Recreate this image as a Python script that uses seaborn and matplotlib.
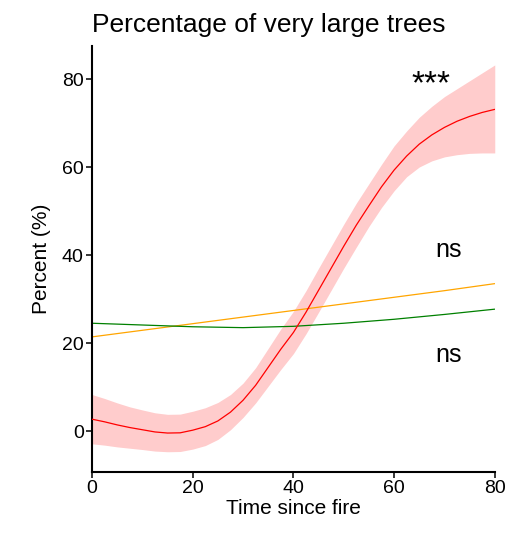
import matplotlib
matplotlib.use("Agg")
import matplotlib.pyplot as plt
import seaborn as sns
import pandas as pd

# ---- data ----
time_fire = [0, 2.5, 5, 7.5, 10, 12.5, 15, 17.5, 20, 22.5, 25, 27.5, 30, 32.5, 35, 37.5,
             40, 42.5, 45, 47.5, 50, 52.5, 55, 57.5, 60, 62.5, 65, 67.5, 70, 72.5, 75, 77.5, 80]
red_fit = [2.7, 2.1, 1.4, 0.8, 0.3, -0.2, -0.45, -0.4, 0.2, 1.0, 2.3, 4.3, 7.0, 10.4, 14.5, 18.6,
           22.4, 27.0, 32.0, 37.0, 42.0, 46.8, 51.2, 55.5, 59.3, 62.5, 65.2, 67.3, 69.0, 70.4, 71.5, 72.4, 73.1]
red_upper = [8.3, 7.4, 6.4, 5.5, 4.8, 4.15, 3.8, 3.85, 4.5, 5.3, 6.5, 8.3, 10.9, 14.4, 18.8, 23.2,
             27.2, 31.9, 37.0, 42.0, 47.0, 51.8, 56.2, 60.6, 64.8, 68.2, 71.3, 73.8, 76.0, 77.8, 79.6, 81.4, 83.2]
red_lower = [-2.9, -3.2, -3.6, -3.9, -4.2, -4.55, -4.7, -4.65, -4.1, -3.3, -1.9, 0.3, 3.1, 6.4, 10.2, 14.0,
             17.6, 22.1, 27.0, 32.0, 37.0, 41.8, 46.5, 50.8, 54.6, 57.8, 60.0, 61.4, 62.3, 62.8, 63.1, 63.2, 63.2]

time_fire2 = [0, 10, 20, 30, 40, 50, 60, 70, 80]
orange_fit = [21.4, 22.9, 24.4, 25.9, 27.4, 28.9, 30.4, 31.9, 33.5]
green_fit = [24.5, 24.1, 23.7, 23.5, 23.8, 24.5, 25.4, 26.5, 27.7]

x_ticks = [0, 20, 40, 60, 80]
y_ticks = [0, 20, 40, 60, 80]

title = "Percentage of very large trees"
x_label = "Time since fire"
y_label = "Percent (%)"

df_red = pd.DataFrame({"x": time_fire, "y": red_fit, "lo": red_lower, "hi": red_upper})
df_other = pd.DataFrame({"x": time_fire2, "orange": orange_fit, "green": green_fit})

sns.set_theme(style="ticks")
plt.rcParams["font.family"] = ["Liberation Sans", "DejaVu Sans"]

fig = plt.figure(figsize=(5.17, 5.38), dpi=100)
ax = fig.add_axes([0.178, 0.1227, 0.779, 0.7918])

ax.fill_between(df_red["x"], df_red["lo"], df_red["hi"], color="#FFCCCC", linewidth=0, zorder=1)
sns.lineplot(data=df_other, x="x", y="orange", color="#FFA500", linewidth=0.9, ax=ax, zorder=2)
sns.lineplot(data=df_other, x="x", y="green", color="#008000", linewidth=0.9, ax=ax, zorder=2)
sns.lineplot(data=df_red, x="x", y="y", color="#FF0000", linewidth=0.9, ax=ax, zorder=3)

ax.text(67.4, 76.8, "***", fontsize=24, ha="center", va="baseline", color="black")
ax.text(70.8, 39.6, "ns", fontsize=18, ha="center", va="baseline", color="black")
ax.text(70.8, 15.8, "ns", fontsize=18, ha="center", va="baseline", color="black")

ax.set_xlim(0, 80)
ax.set_ylim(-9.3, 87.5)
ax.set_xticks(x_ticks)
ax.set_yticks(y_ticks)
ax.tick_params(axis="both", labelsize=14, length=4, width=1.1, color="black", labelcolor="black", pad=2)
ax.set_xlabel(x_label, fontsize=15, color="black", labelpad=1)
ax.set_ylabel(y_label, fontsize=15, color="black", labelpad=8)
ax.set_title(title, fontsize=19, loc="left", color="black", pad=10)

sns.despine(ax=ax)
for s in ["left", "bottom"]:
    ax.spines[s].set_color("black")
    ax.spines[s].set_linewidth(1.5)
ax.grid(False)

fig.savefig("out.png", dpi=100)
